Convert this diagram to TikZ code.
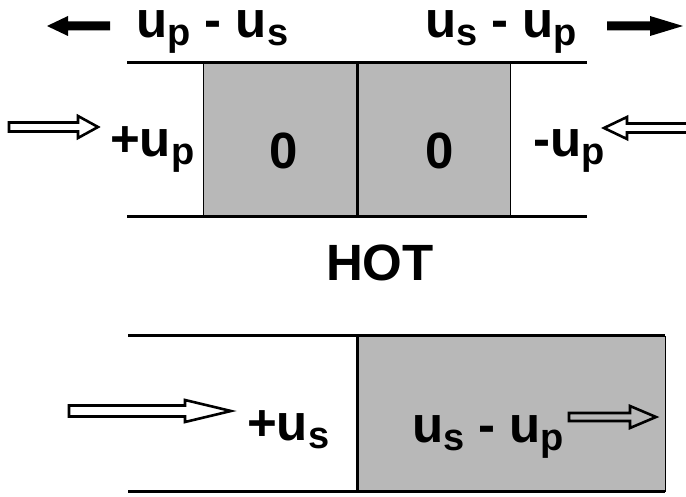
\documentclass[tikz,border=0pt]{standalone}
\usepackage{fontspec}
\setmainfont{Liberation Sans}
\newcommand{\mysb}[1]{\raisebox{-8pt}{\fontsize{38}{38}\selectfont #1}}
\begin{document}
\begin{tikzpicture}[x=1pt,y=-1pt,
  lbl/.style={inner sep=0pt,font=\fontsize{51}{51}\selectfont\bfseries},
  toplbl/.style={lbl,anchor=base west,text height=27pt,text depth=12pt},
  wall/.style={line width=3pt},
  hollow/.style={line width=2.6pt,line join=miter},
  solidarr/.style={fill=black,draw=none},
  stip/.style={fill=black!28,draw=black,line width=0.8pt}]
\useasboundingbox (0,0) rectangle (686,497);
\clip (0,0) rectangle (686,497);
% ---- top section ----
\path[stip] (203,63) rectangle (510,217);
\draw[wall] (127,63) -- (587,63);
\draw[wall] (127,217) -- (587,217);
\draw[wall] (357,63) -- (357,217);
% solid arrows
\fill[solidarr] (47,26) -- (68,16) -- (68,21.5) -- (110,21.5) -- (110,30.5) -- (68,30.5) -- (68,36) -- cycle;
\fill[solidarr] (683,26) -- (650,16) -- (650,21.5) -- (607,21.5) -- (607,30.5) -- (650,30.5) -- (650,36) -- cycle;
\node[toplbl] (t1) at (136,38) {u\mysb{p} - u\mysb{s}};
\node[toplbl] (t2) at (425,38) {u\mysb{s} - u\mysb{p}};
% hollow arrows
\draw[hollow] (9,122.5) -- (78,122.5) -- (78,116) -- (98,127) -- (78,138) -- (78,131.5) -- (9,131.5) -- cycle;
\draw[hollow] (695,123.5) -- (627,123.5) -- (627,117) -- (604,128) -- (627,139) -- (627,132.5) -- (695,132.5);
\node[lbl,anchor=base west] (a1) at (110,157) {+u\mysb{p}};
\node[lbl] (z1) at (284,151) {0};
\node[lbl] (z2) at (440,151) {0};
\node[lbl,anchor=base west] (a2) at (533,157) {-u\mysb{p}};
\node[lbl] (hot) at (380,263) {HOT};
% ---- bottom section ----
\path[stip] (357,336) rectangle (665,491);
\draw[wall] (128,336) -- (665,336);
\draw[wall] (128,491) -- (665,491);
\draw[wall] (357,336) -- (357,491);
\draw[hollow] (69,405.5) -- (185,405.5) -- (185,400) -- (231,411) -- (185,422) -- (185,416.5) -- (69,416.5) -- cycle;
\draw[hollow] (569,413) -- (630,413) -- (630,406) -- (656,417) -- (630,428) -- (630,421) -- (569,421) -- cycle;
\node[lbl,anchor=base west] (b1) at (247,440) {+u\mysb{s}};
\node[lbl,anchor=base west] (b2) at (412,442) {u\mysb{s} - u\mysb{p}};
\end{tikzpicture}
\end{document}
